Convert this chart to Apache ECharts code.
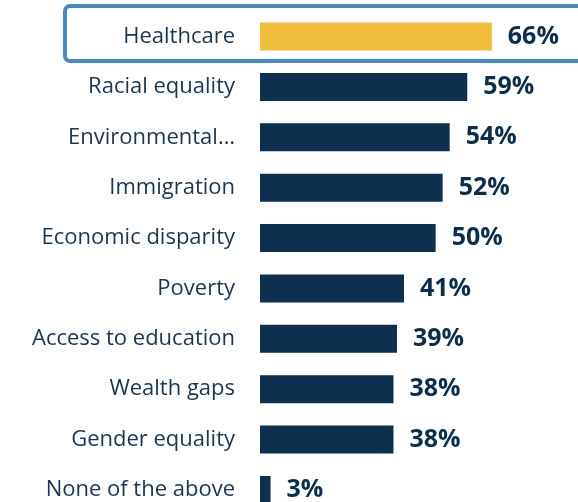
<!DOCTYPE html>
<html>
<head>
<meta charset="utf-8">
<script src="https://cdn.jsdelivr.net/npm/echarts@6/dist/echarts.min.js"></script>
<style>
html,body{margin:0;padding:0;background:#fff;}
#chart{width:578px;height:502px;}
</style>
</head>
<body>
<div id="chart"></div>
<script>
const categories = ["Healthcare","Racial equality","Environmental…","Immigration","Economic disparity","Poverty","Access to education","Wealth gaps","Gender equality","None of the above"];
const values = [66,59,54,52,50,41,39,38,38,3];
const highlightIndex = 0;

const chart = echarts.init(document.getElementById('chart'));
const option = {
  animation:false,
  grid:{left:260, right:37, top:36.5, bottom:12, containLabel:false},
  xAxis:{type:'value', min:0, max:80, show:false},
  yAxis:{type:'category', data:categories, inverse:true, boundaryGap:false,
    axisLine:{show:false}, axisTick:{show:false}, splitLine:{show:false},
    axisLabel:{margin:25, color:'#1b3550', fontFamily:'Open Sans', fontSize:22}},
  graphic:[{
    type:'rect', z:-1,
    shape:{x:65, y:6, width:540, height:55, r:5},
    style:{fill:'none', stroke:'#4a88bd', lineWidth:4}
  }],
  series:[{
    type:'bar', barWidth:28,
    data: values.map((v,i)=>({value:v, itemStyle:{color: i===highlightIndex ? '#f0bd3c' : '#0e2f4e'}})),
    label:{show:true, position:'right', distance:16, formatter:'{c}%',
      color:'#0d2d4c', fontFamily:'Open Sans', fontWeight:'bold', fontSize:25}
  }]
};
chart.setOption(option);
</script>
</body>
</html>
